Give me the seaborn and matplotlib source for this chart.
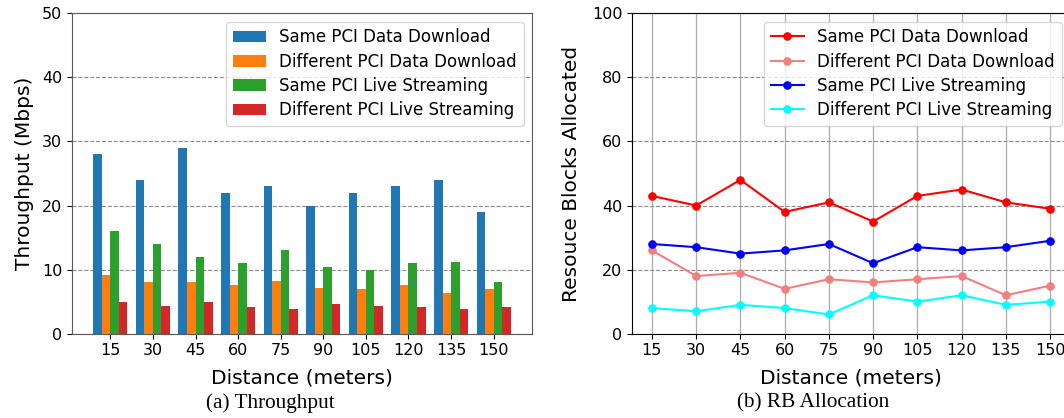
import matplotlib
matplotlib.use("Agg")
import matplotlib.pyplot as plt
import seaborn as sns
import pandas as pd

distances = [15, 30, 45, 60, 75, 90, 105, 120, 135, 150]
series_names = ["Same PCI Data Download", "Different PCI Data Download",
                "Same PCI Live Streaming", "Different PCI Live Streaming"]

# Throughput (Mbps)
tp_same_dd = [28, 24, 29, 22, 23, 20, 22, 23, 24, 19]
tp_diff_dd = [9.2, 8.1, 8.1, 7.6, 8.2, 7.2, 7.0, 7.6, 6.4, 6.9]
tp_same_ls = [16, 14, 12, 11, 13, 10.4, 10, 11, 11.2, 8.1]
tp_diff_ls = [5.0, 4.4, 5.0, 4.1, 3.9, 4.7, 4.4, 4.1, 3.9, 4.2]

# Resource blocks allocated
rb_same_dd = [43, 40, 48, 38, 41, 35, 43, 45, 41, 39]
rb_diff_dd = [26, 18, 19, 14, 17, 16, 17, 18, 12, 15]
rb_same_ls = [28, 27, 25, 26, 28, 22, 27, 26, 27, 29]
rb_diff_ls = [8, 7, 9, 8, 6, 12, 10, 12, 9, 10]

bar_colors = ["#1f77b4", "#ff7f0e", "#2ca02c", "#d62728"]
line_colors = ["red", "lightcoral", "blue", "cyan"]

tp_series = [tp_same_dd, tp_diff_dd, tp_same_ls, tp_diff_ls]
rb_series = [rb_same_dd, rb_diff_dd, rb_same_ls, rb_diff_ls]

rows = []
for name, vals in zip(series_names, tp_series):
    for d, v in zip(distances, vals):
        rows.append({"Distance": str(d), "Series": name, "Throughput": v})
df_tp = pd.DataFrame(rows)

plt.rcParams["font.family"] = ["DejaVu Sans"]

W, H = 1064, 418
fig = plt.figure(figsize=(W / 100, H / 100), dpi=100)

ax1 = fig.add_axes([72 / W, (H - 333.7) / H, 460 / W, 320.4 / H])
ax2 = fig.add_axes([632 / W, (H - 333.7) / H, 438 / W, 320.4 / H])

# ---- left: throughput bars
sns.barplot(data=df_tp, x="Distance", y="Throughput", hue="Series",
            hue_order=series_names, palette=bar_colors, order=[str(d) for d in distances],
            width=0.8, saturation=1, ax=ax1, zorder=3)
ax1.set_xlim(-0.9, 9.9)
ax1.set_ylim(0, 50)
ax1.set_yticks([0, 10, 20, 30, 40, 50])
ax1.grid(axis="y", linestyle="--", color="0.55", linewidth=0.8, zorder=0)
ax1.grid(axis="x", visible=False)
ax1.set_axisbelow(True)
ax1.set_xlabel("Distance (meters)", fontsize=14.5, labelpad=7)
ax1.set_ylabel("Throughput (Mbps)", fontsize=14.5, labelpad=6)
ax1.tick_params(labelsize=11.5)
for s in ax1.spines.values():
    s.set_color("0.35")
ax1.legend(loc="upper right", fontsize=12, framealpha=0.8, labelspacing=0.38)

# ---- right: RB allocation lines
for name, vals, c in zip(series_names, rb_series, line_colors):
    sns.lineplot(x=distances, y=vals, color=c, marker="o", markersize=5.4,
                 markeredgecolor=c, markerfacecolor=c, linewidth=1.5,
                 label=name, ax=ax2)
ax2.set_ylim(0, 100)
ax2.set_xticks(distances)
ax2.set_yticks([0, 20, 40, 60, 80, 100])
ax2.grid(axis="x", linestyle="-", color="0.68", linewidth=0.9)
ax2.grid(axis="y", linestyle="--", color="0.55", linewidth=0.8)
ax2.set_axisbelow(True)
ax2.set_xlabel("Distance (meters)", fontsize=14.5, labelpad=7)
ax2.set_ylabel("Resouce Blocks Allocated", fontsize=14.5, labelpad=8)
ax2.tick_params(labelsize=11.5)
ax2.legend(loc="upper right", fontsize=12, framealpha=0.8, labelspacing=0.38)

fig.text(270 / W, (H - 403) / H, "(a) Throughput", ha="center", va="center",
         fontsize=15.3, family=["Liberation Serif", "DejaVu Serif"])
fig.text(813 / W, (H - 403) / H, "(b) RB Allocation", ha="center", va="center",
         fontsize=15.3, family=["Liberation Serif", "DejaVu Serif"])

fig.savefig("out.png", dpi=100)
